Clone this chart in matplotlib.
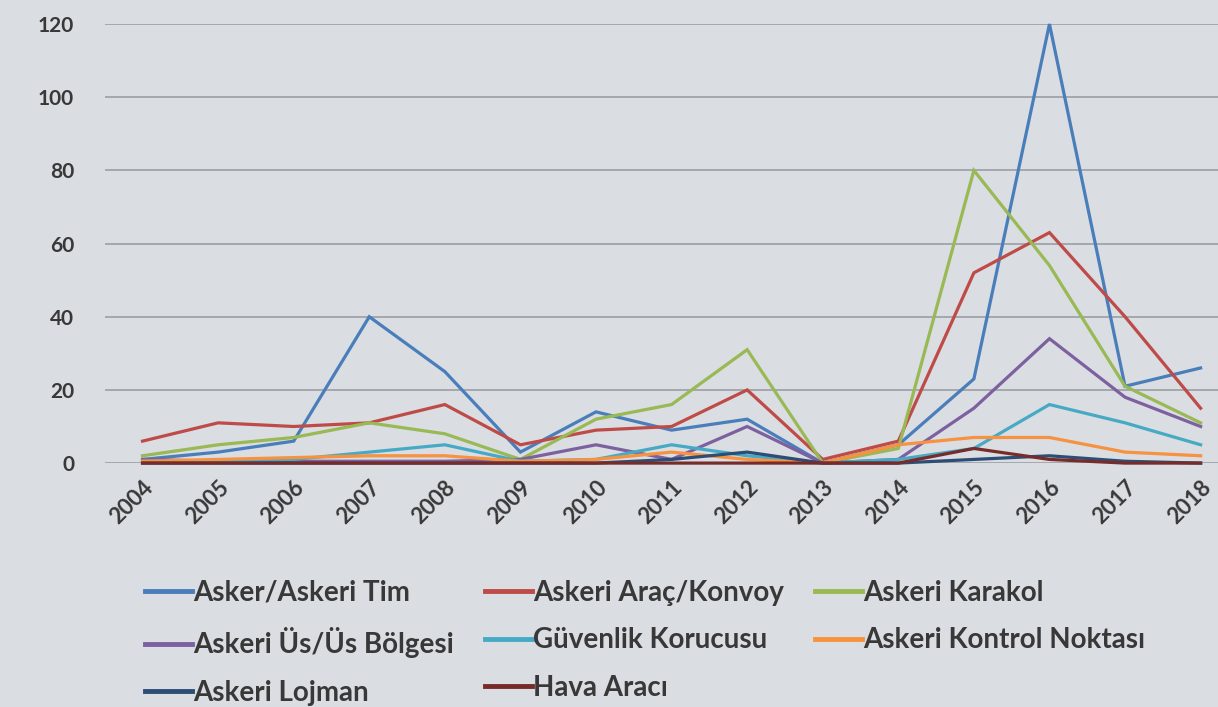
import numpy as np
import matplotlib
matplotlib.use("Agg")
import matplotlib.pyplot as plt

years = ["2004", "2005", "2006", "2007", "2008", "2009", "2010", "2011",
         "2012", "2013", "2014", "2015", "2016", "2017", "2018"]

asker_tim = [1, 3, 6, 40, 25, 3, 14, 9, 12, 0, 5, 23, 120, 21, 26]
arac_konvoy = [6, 11, 10, 11, 16, 5, 9, 10, 20, 1, 6, 52, 63, 40, 15]
karakol = [2, 5, 7, 11, 8, 1, 12, 16, 31, 0, 4, 80, 54, 21, 11]
us_bolgesi = [1, 0.5, 0.5, 0.5, 0.5, 1, 5, 1, 10, 0, 1, 15, 34, 18, 10]
korucu = [0.5, 0.5, 1, 3, 5, 0.5, 1, 5, 2, 0, 1, 4, 16, 11, 5]
kontrol = [0.5, 1, 1.5, 2, 2, 0.5, 1, 3, 1, 0, 5, 7, 7, 3, 2]
lojman = [0, 0, 0, 0, 0, 0, 0, 1, 3, 0, 0, 1, 2, 0.5, 0]
hava = [0, 0, 0, 0, 0, 0, 0, 0, 0, 0, 0, 4, 1, 0, 0]

labels = ["Asker/Askeri Tim", "Askeri Araç/Konvoy", "Askeri Karakol",
          "Askeri Üs/Üs Bölgesi", "Güvenlik Korucusu", "Askeri Kontrol Noktası",
          "Askeri Lojman", "Hava Aracı"]
colors = ["#4A7EBB", "#BE4B48", "#98B954", "#7D60A0", "#46AAC5", "#F69240",
          "#2C4D75", "#772C2A"]

series = [asker_tim, arac_konvoy, karakol, us_bolgesi, korucu, kontrol, lojman, hava]

bg = "#dadde1"
txt = "#383838"
plt.rcParams["font.family"] = ["Lato", "DejaVu Sans"]

fig = plt.figure(figsize=(12.18, 7.07), dpi=100, facecolor=bg)
ax = fig.add_axes([0.086, 0.345, 0.914, 0.621], facecolor=bg)

x = np.arange(len(years))
lines = []
for vals, lab, col in zip(series, labels, colors):
    ln, = ax.plot(x, vals, color=col, lw=2.3, label=lab, clip_on=False,
                  solid_joinstyle="miter")
    lines.append(ln)

ax.set_ylim(0, 120)
ax.set_xlim(-0.5, 14.23)
ax.set_yticks(range(0, 121, 20))
ax.set_xticks(x)
ax.set_xticklabels(years, rotation=45, ha="right", rotation_mode="anchor",
                   fontsize=16, fontweight="bold", color=txt)
for t in ax.get_yticklabels():
    t.set_fontsize(15)
    t.set_fontweight("bold")
    t.set_color(txt)
ax.tick_params(axis="both", length=0)
ax.tick_params(axis="y", pad=22)
ax.tick_params(axis="x", pad=10)
ax.grid(axis="y", color="#a4a7ab", lw=1.4)
ax.set_axisbelow(True)
for s in ax.spines.values():
    s.set_visible(False)

# legend is filled row by row in the original
order = [0, 3, 6, 1, 4, 7, 2, 5]
leg = fig.legend([lines[i] for i in order], [labels[i] for i in order],
                 loc="upper left", bbox_to_anchor=(0.119, 0.18), ncol=3,
                 frameon=False, handlelength=1.7, handletextpad=0.05,
                 columnspacing=1.1, labelspacing=0.78, borderpad=0,
                 borderaxespad=0, prop={"weight": "bold", "size": 20})
for t in leg.get_texts():
    t.set_color(txt)
for h in leg.legend_handles:
    h.set_linewidth(3.5)

fig.savefig("out.png", dpi=100, facecolor=bg)
